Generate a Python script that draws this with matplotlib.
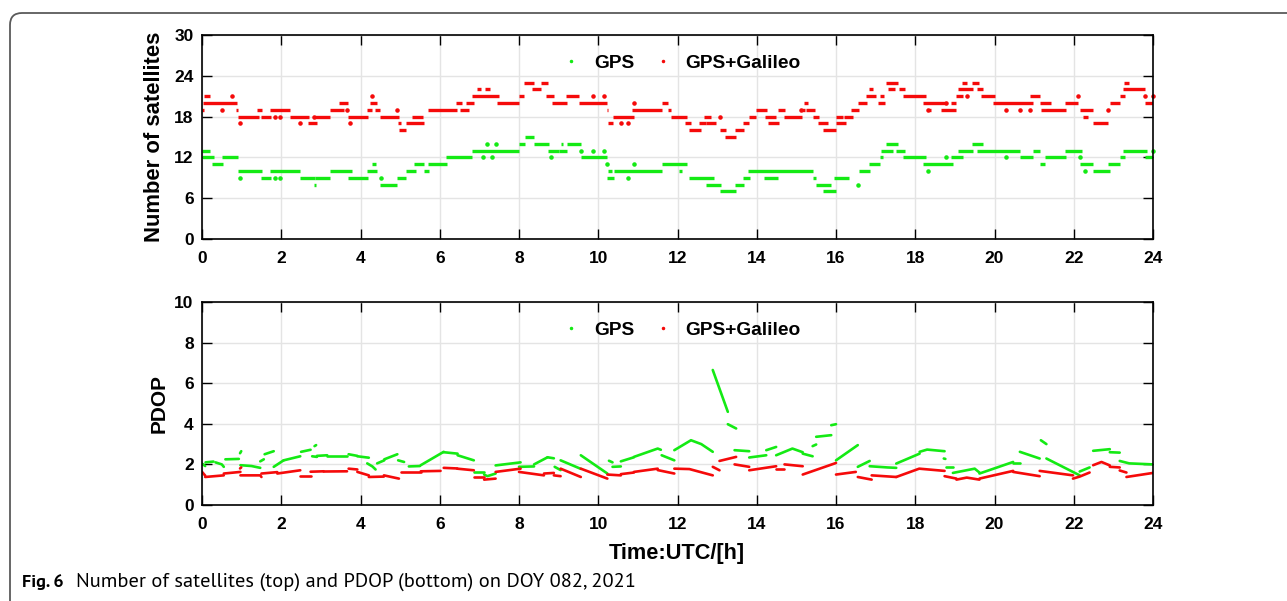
import matplotlib
matplotlib.use("Agg")
import matplotlib.pyplot as plt
from matplotlib.patches import FancyBboxPatch
from matplotlib.transforms import IdentityTransform
from matplotlib.lines import Line2D

# number of satellites, runs of constant count: (start hour, end hour, count)
gal_steps = [
	(0.00, 0.06, 19), (0.04, 0.19, 21), (0.03, 0.88, 20), (0.86, 0.90, 19), (0.90, 1.43, 18),
	(1.39, 1.52, 19), (1.50, 1.73, 18), (1.71, 2.23, 19), (2.21, 2.71, 18), (2.67, 2.91, 17),
	(2.84, 3.24, 18), (3.22, 3.58, 19), (3.45, 3.68, 20), (3.69, 4.19, 18), (4.17, 4.30, 19),
	(4.23, 4.42, 20), (4.36, 4.50, 19), (4.49, 4.97, 18), (4.94, 5.03, 17), (4.97, 5.16, 16),
	(5.14, 5.60, 17), (5.30, 5.57, 18), (5.70, 6.44, 19), (6.40, 6.57, 20), (6.50, 6.74, 19),
	(6.65, 6.86, 20), (6.82, 7.49, 21), (6.93, 7.05, 22), (7.13, 7.26, 22), (7.45, 8.00, 20),
	(7.99, 8.13, 21), (8.13, 8.38, 23), (8.34, 8.55, 22), (8.55, 8.72, 23), (8.67, 8.88, 21),
	(8.84, 9.22, 20), (9.18, 9.52, 21), (9.52, 10.23, 20), (10.22, 10.25, 19), (10.25, 10.36, 17),
	(10.36, 10.90, 18), (10.86, 11.62, 19), (11.62, 11.75, 20), (11.75, 11.83, 19), (11.83, 12.23, 18),
	(12.20, 12.34, 17), (12.30, 12.59, 16), (12.53, 12.72, 17), (12.68, 12.85, 18), (12.72, 12.97, 17),
	(13.06, 13.23, 16), (13.21, 13.48, 15), (13.44, 13.67, 16), (13.65, 13.81, 17), (13.80, 13.98, 18),
	(13.97, 14.25, 19), (14.22, 14.49, 18), (14.28, 14.55, 17), (14.53, 14.72, 19), (14.70, 15.15, 18),
	(15.15, 15.22, 19), (15.18, 15.29, 20), (15.25, 15.46, 19), (15.42, 15.58, 18), (15.54, 15.79, 17),
	(15.67, 16.00, 16), (16.00, 16.17, 18), (16.00, 16.26, 17), (16.21, 16.42, 18), (16.38, 16.59, 19),
	(16.55, 16.78, 20), (16.76, 17.01, 21), (16.83, 16.93, 22), (17.06, 17.24, 20), (17.10, 17.20, 21),
	(17.25, 17.56, 23), (17.30, 17.50, 22), (17.60, 17.73, 22), (17.70, 18.28, 21), (18.19, 18.78, 20),
	(18.35, 18.40, 19), (18.66, 19.04, 19), (18.91, 19.04, 20), (19.04, 19.20, 21), (19.19, 19.31, 23),
	(19.08, 19.46, 22), (19.44, 19.60, 23), (19.57, 19.71, 22), (19.67, 20.00, 21), (19.96, 20.97, 20),
	(20.89, 21.14, 21), (21.14, 21.43, 20), (21.18, 21.81, 19), (21.77, 22.11, 20), (22.15, 22.49, 19),
	(22.24, 22.36, 18), (22.49, 22.87, 17), (22.91, 23.16, 20), (23.16, 23.29, 21), (23.27, 23.40, 23),
	(23.25, 23.79, 22), (23.79, 24.00, 20),
]
gal_dots = [
	(0.50, 19), (0.75, 21), (0.97, 17), (1.84, 18), (1.98, 18), (2.48, 17), (2.82, 18), (3.66, 19),
	(3.73, 17), (4.29, 21), (4.93, 19), (9.88, 21), (10.15, 21), (10.57, 17), (10.74, 17), (10.90, 20),
	(13.06, 18), (15.12, 19), (18.32, 19), (18.78, 20), (19.31, 21), (20.30, 19), (20.64, 19), (20.89, 19),
	(22.11, 21), (22.87, 19), (23.79, 21), (24.00, 21),
]
gps_steps = [
	(0.00, 0.20, 13), (0.00, 0.30, 12), (0.25, 0.52, 11), (0.50, 0.90, 12), (0.90, 1.52, 10),
	(1.49, 1.73, 9), (1.71, 2.48, 10), (2.47, 2.84, 9), (2.82, 2.87, 8), (2.84, 3.24, 9),
	(3.22, 3.79, 10), (3.69, 4.19, 9), (4.17, 4.42, 10), (4.28, 4.40, 11), (4.49, 4.93, 8),
	(4.93, 5.16, 9), (5.14, 5.40, 10), (5.35, 5.60, 11), (5.60, 5.72, 10), (5.70, 6.19, 11),
	(6.15, 6.82, 12), (6.82, 8.00, 13), (8.00, 8.15, 14), (8.15, 8.38, 15), (8.37, 8.76, 14),
	(8.72, 9.01, 13), (9.05, 9.12, 14), (9.01, 9.22, 13), (9.20, 9.56, 14), (9.56, 10.23, 12),
	(10.23, 10.40, 9), (10.25, 10.35, 10), (10.40, 11.62, 10), (11.62, 12.23, 11), (12.05, 12.12, 10),
	(12.30, 12.93, 9), (12.72, 13.10, 8), (13.06, 13.48, 7), (13.44, 13.69, 8), (13.65, 13.83, 9),
	(13.77, 15.41, 10), (14.19, 14.53, 9), (15.41, 15.50, 9), (15.50, 15.88, 8), (15.67, 16.00, 7),
	(15.96, 16.34, 9), (16.59, 16.85, 10), (16.83, 17.12, 11), (17.12, 17.18, 12), (17.14, 17.44, 13),
	(17.27, 17.56, 14), (17.52, 17.75, 13), (17.70, 18.28, 12), (18.19, 18.95, 11), (18.91, 19.20, 12),
	(19.08, 19.46, 13), (19.44, 19.71, 14), (19.57, 20.64, 13), (20.64, 20.97, 12), (20.97, 21.14, 13),
	(21.14, 21.27, 11), (21.27, 21.81, 12), (21.77, 22.20, 13), (22.15, 22.49, 11), (22.49, 22.91, 10),
	(22.87, 23.16, 11), (23.16, 23.29, 12), (23.25, 23.84, 13), (23.79, 24.00, 12),
]
gps_dots = [
	(0.97, 9), (1.84, 9), (1.98, 9), (4.52, 9), (7.10, 12), (7.33, 12), (7.20, 14), (7.41, 14),
	(8.81, 12), (9.56, 13), (9.88, 13), (10.15, 13), (10.23, 11), (10.74, 9), (10.90, 11),
	(16.55, 8), (18.32, 10), (18.78, 12), (20.30, 12), (22.15, 12), (22.28, 10), (24.00, 13),
]

# PDOP arcs, each a list of (hour, pdop)
gps_pdop_arcs = [
	[(0.00, 2.04), (0.08, 1.92)], [(0.09, 2.10), (0.29, 2.14)], [(0.34, 2.10), (0.50, 2.00), (0.55, 1.88)],
	[(0.59, 2.25), (0.93, 2.27)], [(0.96, 2.55), (0.99, 2.65)], [(0.97, 1.96), (1.25, 1.92), (1.47, 1.83)],
	[(1.47, 2.15), (1.56, 2.25)], [(1.58, 2.50), (1.81, 2.65)], [(1.81, 1.88), (2.06, 2.20)],
	[(2.06, 2.20), (2.48, 2.40)], [(2.50, 2.62), (2.74, 2.72)], [(2.84, 2.90), (2.88, 2.95)],
	[(2.78, 2.40), (2.90, 2.37)], [(2.90, 2.42), (3.16, 2.45)], [(3.16, 2.40), (3.66, 2.40)],
	[(3.70, 2.50), (3.92, 2.42)], [(3.92, 2.40), (4.21, 2.33)], [(4.17, 2.05), (4.30, 1.90), (4.38, 1.75)],
	[(4.42, 2.05), (4.60, 2.20)], [(4.60, 2.25), (4.93, 2.50)], [(4.95, 2.20), (5.10, 2.12)],
	[(5.22, 1.90), (5.50, 1.92)], [(5.52, 1.96), (6.10, 2.62)], [(6.10, 2.60), (6.45, 2.53)],
	[(6.45, 2.45), (6.86, 2.20)], [(6.86, 1.63), (7.12, 1.63)], [(7.12, 1.50), (7.20, 1.42), (7.41, 1.55)],
	[(7.41, 1.95), (8.04, 2.10)], [(8.00, 1.88), (8.38, 1.90)], [(8.38, 2.00), (8.72, 2.35)],
	[(8.72, 2.35), (8.88, 2.30)], [(8.90, 1.88), (9.05, 1.72)], [(9.05, 2.20), (9.56, 1.78)],
	[(9.56, 2.45), (10.23, 1.55)], [(10.27, 2.18), (10.36, 2.10)], [(10.36, 1.88), (10.57, 1.90)],
	[(10.57, 2.15), (10.90, 2.35)], [(10.90, 2.37), (11.50, 2.78), (11.58, 2.72)],
	[(11.60, 2.45), (11.92, 2.20)], [(11.92, 2.70), (12.34, 3.19), (12.60, 3.00), (12.89, 2.62)],
	[(12.89, 6.65), (13.27, 4.59)], [(13.27, 3.98), (13.48, 3.77)], [(13.44, 2.70), (13.81, 2.65)],
	[(13.81, 2.34), (14.24, 2.45)], [(14.24, 2.70), (14.49, 2.86)], [(14.49, 2.45), (14.90, 2.78), (15.16, 2.60)],
	[(15.16, 2.53), (15.41, 2.40)], [(15.41, 2.90), (15.50, 2.98)], [(15.50, 3.36), (15.88, 3.44)],
	[(15.88, 3.93), (16.00, 3.98)], [(16.00, 2.20), (16.55, 2.95)], [(16.55, 1.88), (16.85, 2.17)],
	[(16.85, 1.91), (17.30, 1.85), (17.52, 1.83)], [(17.52, 2.04), (18.11, 2.53)],
	[(18.11, 2.62), (18.30, 2.73), (18.74, 2.65)], [(18.72, 2.29), (18.76, 2.27)], [(18.78, 1.88), (18.95, 1.88)],
	[(18.95, 1.58), (19.50, 1.79), (19.62, 1.60)], [(19.62, 1.55), (20.47, 2.12)], [(20.47, 2.05), (20.64, 2.05)],
	[(20.64, 2.62), (21.14, 2.29)], [(21.17, 3.19), (21.31, 3.00)], [(21.31, 2.29), (22.15, 1.46)],
	[(22.15, 1.65), (22.40, 1.85)], [(22.49, 2.67), (22.91, 2.75)], [(22.91, 2.60), (23.16, 2.58)],
	[(23.16, 2.17), (23.40, 2.05), (24.00, 2.00)],
]
gal_pdop_arcs = [
	[(0.00, 1.63), (0.08, 1.45)], [(0.08, 1.38), (0.55, 1.46)], [(0.55, 1.55), (0.97, 1.63)],
	[(0.96, 1.80), (0.99, 1.85)], [(0.97, 1.46), (1.47, 1.46), (1.50, 1.38)], [(1.50, 1.55), (1.90, 1.62)],
	[(1.90, 1.55), (2.48, 1.71)], [(2.48, 1.42), (2.74, 1.42)], [(2.74, 1.64), (3.07, 1.66)],
	[(3.07, 1.65), (3.66, 1.66)], [(3.70, 1.79), (3.92, 1.75)], [(3.92, 1.63), (4.21, 1.46)],
	[(4.21, 1.38), (4.59, 1.40)], [(4.59, 1.46), (4.97, 1.30)], [(5.01, 1.63), (5.52, 1.63)],
	[(5.52, 1.66), (6.02, 1.68)], [(6.10, 1.83), (6.44, 1.80)], [(6.44, 1.79), (6.86, 1.71)],
	[(6.86, 1.38), (7.12, 1.38)], [(7.12, 1.25), (7.41, 1.30)], [(7.41, 1.63), (8.04, 1.79)],
	[(8.00, 1.63), (8.63, 1.46)], [(8.63, 1.55), (8.88, 1.58)], [(8.88, 1.46), (9.05, 1.42)],
	[(9.05, 1.79), (9.56, 1.38)], [(9.56, 1.79), (10.23, 1.30)], [(10.23, 1.50), (10.57, 1.46)],
	[(10.57, 1.52), (10.90, 1.60)], [(10.90, 1.63), (11.50, 1.79)], [(11.50, 1.72), (11.92, 1.55)],
	[(11.92, 1.79), (12.30, 1.77), (12.89, 1.46)], [(12.89, 1.88), (13.06, 1.71)],
	[(13.06, 2.17), (13.48, 2.37)], [(13.44, 2.00), (13.81, 1.88)], [(13.81, 1.71), (14.49, 1.91)],
	[(14.49, 1.75), (14.70, 1.75)], [(14.70, 2.00), (15.16, 1.91)], [(15.16, 1.50), (16.00, 2.07)],
	[(16.00, 1.50), (16.50, 1.63)], [(16.55, 1.38), (16.90, 1.25)], [(16.90, 1.46), (17.52, 1.38)],
	[(17.52, 1.38), (18.10, 1.79), (18.74, 1.68)], [(18.74, 1.42), (19.04, 1.30)],
	[(19.04, 1.25), (19.30, 1.35), (19.62, 1.25)], [(19.62, 1.30), (20.47, 1.68)],
	[(20.47, 1.63), (21.14, 1.42)], [(21.14, 1.68), (21.98, 1.46)], [(21.98, 1.30), (22.15, 1.40), (22.40, 1.60)],
	[(22.49, 1.96), (22.70, 2.12), (22.91, 1.95)], [(22.91, 1.88), (23.16, 1.85)],
	[(23.16, 1.70), (23.33, 1.60)], [(23.33, 1.38), (24.00, 1.58)],
]

hour_ticks = list(range(0, 25, 2))
sat_ticks = [0, 6, 12, 18, 24, 30]
pdop_ticks = [0, 2, 4, 6, 8, 10]
labels = ["GPS", "GPS+Galileo"]

green = "#14ea14"
red = "#f50a0a"

plt.rcParams["font.family"] = ["Liberation Sans", "DejaVu Sans"]
caption_font = ["PT Sans", "Liberation Sans", "DejaVu Sans"]

W, H = 1287, 601
fig = plt.figure(figsize=(W / 100.0, H / 100.0), dpi=100)
ax1 = fig.add_axes([202 / W, 1 - 239 / H, 951 / W, 204 / H])
ax2 = fig.add_axes([202 / W, 1 - 505 / H, 951 / W, 203 / H])

for ax in (ax1, ax2):
	ax.set_xlim(0, 24)
	ax.set_xticks(hour_ticks)
	ax.grid(True, color="#e4e4e4", lw=1.0)
	ax.set_axisbelow(True)
	ax.tick_params(direction="in", length=7.5, width=1.0, top=True, right=True, pad=6,
		labelsize=12.5)
	ax.tick_params(axis="x", pad=8.5)
	for s in ax.spines.values():
		s.set_linewidth(1.2)
	for t in ax.get_xticklabels() + ax.get_yticklabels():
		t.set_fontweight("bold")

# top: number of satellites
for seg, col in ((gps_steps, green), (gal_steps, red)):
	ax1.hlines([s[2] for s in seg], [s[0] for s in seg], [s[1] for s in seg], colors=col, lw=2.4)
for dots, col in ((gps_dots, green), (gal_dots, red)):
	ax1.plot([d[0] for d in dots], [d[1] for d in dots], ".", color=col, ms=4.5, clip_on=False)
ax1.set_ylim(0, 30)
ax1.set_yticks(sat_ticks)
ax1.set_ylabel("Number of satellites", fontsize=15.8, fontweight="bold")
ax1.yaxis.set_label_coords(-0.039, 0.5)

# bottom: PDOP
for arcs, col in ((gps_pdop_arcs, green), (gal_pdop_arcs, red)):
	for arc in arcs:
		ax2.plot([p[0] for p in arc], [p[1] for p in arc], "-", color=col, lw=1.9,
			solid_capstyle="round")
ax2.set_ylim(0, 10)
ax2.set_yticks(pdop_ticks)
ax2.set_ylabel("PDOP", fontsize=15, fontweight="bold")
ax2.yaxis.set_label_coords(-0.035, 0.5)
ax2.set_xlabel("Time:UTC/[h]", fontsize=15.7, fontweight="bold")
ax2.xaxis.set_label_coords(0.4995, -0.187)

handles = [Line2D([], [], ls="", marker=".", ms=3, color=green),
	Line2D([], [], ls="", marker=".", ms=3, color=red)]
for ax in (ax1, ax2):
	ax.legend(handles, labels, loc="upper center", bbox_to_anchor=(0.506, 0.99), ncol=2,
		frameon=False, handlelength=0.6, handletextpad=0.9, columnspacing=1.16,
		prop={"weight": "bold", "size": 13.8})

# rounded frame and caption
fig.patches.append(FancyBboxPatch((10, -40), 1400, H - 13 + 40,
	boxstyle="round,pad=0,rounding_size=12", transform=IdentityTransform(),
	fill=False, ec="#5a5a5a", lw=1.3))
fig.text(22 / W, 1 - 582 / H, "Fig. 6", fontsize=13, fontweight="bold", va="center", family=caption_font)
fig.text(76 / W, 1 - 582 / H, "Number of satellites (top) and PDOP (bottom) on DOY 082, 2021",
	fontsize=14.7, va="center", family=caption_font)

fig.savefig("out.png", dpi=100)
